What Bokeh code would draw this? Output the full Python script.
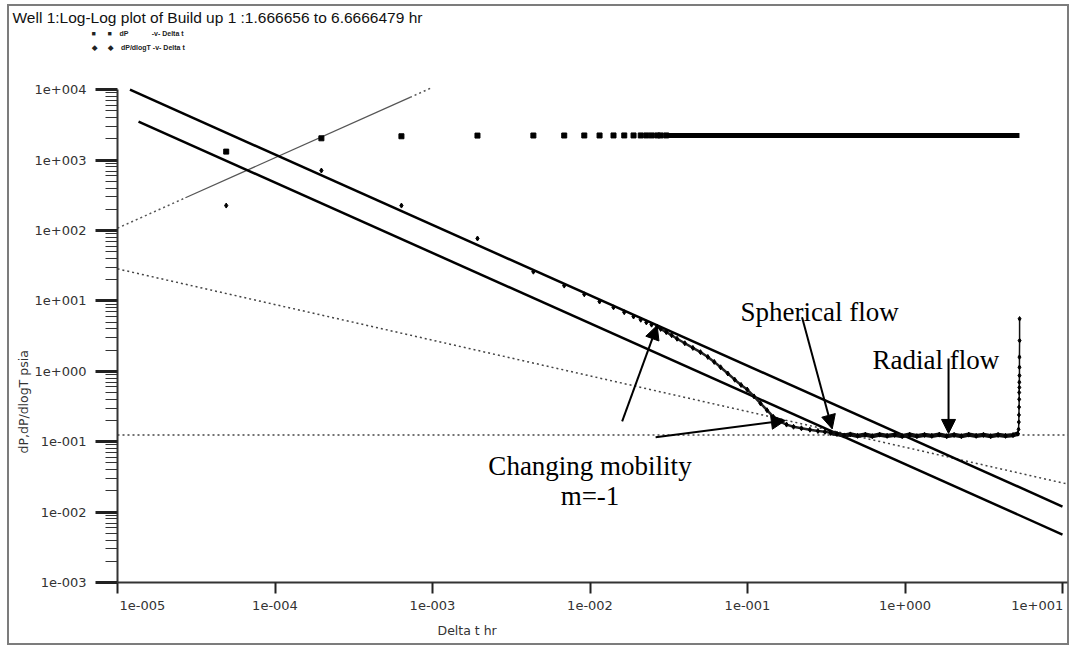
import math
from bokeh.plotting import figure
from bokeh.models import Label, Arrow, NormalHead, FixedTicker, Range1d, Title
from bokeh.embed import file_html
from bokeh.resources import INLINE

# ---------------- data ----------------
# dP -v- Delta t  (squares)
dp_time = [4.9e-5, 1.97e-4, 6.35e-4, 1.93e-3, 4.37e-3, 6.86e-3, 9.2e-3, 1.15e-2,
           1.41e-2, 1.65e-2, 1.89e-2, 2.10e-2, 2.28e-2, 2.46e-2, 2.67e-2, 2.81e-2, 3.05e-2]
dp_value = [1320, 2040, 2180, 2230, 2235, 2235, 2238, 2238,
            2240, 2240, 2240, 2240, 2241, 2241, 2241, 2241, 2241]
# dense tail of the dP record (appears as a solid band)
dp_tail_time = [3.05e-2, 0.1, 0.5, 1.0, 2.0, 4.0, 5.33]
dp_tail_value = [2241, 2242, 2242, 2243, 2243, 2243, 2243]

# dP/dlogT -v- Delta t  (sparse early points)
der_time = [4.9e-5, 1.97e-4, 6.35e-4, 1.93e-3, 4.37e-3, 6.86e-3, 9.2e-3, 1.15e-2,
            1.41e-2, 1.65e-2, 1.89e-2, 2.10e-2, 2.28e-2, 2.46e-2]
der_value = [226, 711, 226, 77, 26, 16.5, 12.4, 9.8, 8.1, 6.9, 6.0, 5.4, 4.95, 4.6]
# dense part of the derivative record: decline, radial-flow plateau, end spike
der_decline_time = [0.0267, 0.0281, 0.0305, 0.0330, 0.0357, 0.040, 0.045, 0.0503, 0.056, 0.0615,
                    0.0675, 0.075, 0.083, 0.091, 0.0996, 0.110, 0.121, 0.133, 0.146, 0.160,
                    0.177, 0.196, 0.22, 0.249, 0.28, 0.31, 0.337]
der_decline_value = [4.3, 4.0, 3.6, 3.25, 2.9, 2.5, 2.15, 1.87, 1.6, 1.36,
                     1.14, 0.93, 0.76, 0.64, 0.55, 0.44, 0.35, 0.28, 0.225, 0.195,
                     0.175, 0.163, 0.155, 0.148, 0.142, 0.138, 0.134]
der_plateau_time = [0.337, 0.37, 0.41, 0.45, 0.50, 0.56, 0.62, 0.69, 0.77, 0.86,
                    0.96, 1.07, 1.19, 1.33, 1.48, 1.65, 1.84, 2.05, 2.28, 2.54,
                    2.83, 3.15, 3.50, 3.90, 4.35, 4.85, 5.20]
der_plateau_value = [0.134, 0.129, 0.122, 0.127, 0.121, 0.126, 0.120, 0.126, 0.121, 0.125,
                     0.120, 0.126, 0.120, 0.125, 0.121, 0.126, 0.120, 0.125, 0.120, 0.126,
                     0.121, 0.125, 0.120, 0.125, 0.121, 0.124, 0.13]
der_spike_time = [5.20, 5.26, 5.28, 5.29, 5.30, 5.31, 5.31, 5.32, 5.32, 5.33, 5.33, 5.33, 5.34, 5.34]
der_spike_value = [0.13, 0.15, 0.19, 0.24, 0.31, 0.40, 0.50, 0.59, 0.70, 0.87, 1.14, 1.59, 2.73, 5.57]

# straight-line fits drawn on the plot
unit_slope_dot1_t = [1e-5, 2.7e-5]
unit_slope_dot1_y = [108, 291.6]
unit_slope_solid_t = [2.7e-5, 7.2e-4]
unit_slope_solid_y = [291.6, 7776]
unit_slope_dot2_t = [7.2e-4, 1e-3]
unit_slope_dot2_y = [7776, 10800]
upper_m1_t = [1.2e-5, 10]
upper_m1_y = [10000, 0.012]
lower_m1_t = [1.36e-5, 10]
lower_m1_y = [3530, 0.0048]
radial_t = [1e-5, 10.8]
radial_y = [0.125, 0.125]
spherical_t = [1e-5, 10.8]
spherical_y = [28.5, 0.025]

x_ticks = [1e-5, 1e-4, 1e-3, 1e-2, 1e-1, 1.0, 10.0]
x_tick_labels = ["1e-005", "1e-004", "1e-003", "1e-002", "1e-001", "1e+000", "1e+001"]
y_ticks = [1e-3, 1e-2, 1e-1, 1.0, 10.0, 100.0, 1000.0, 10000.0]
y_tick_labels = ["1e-003", "1e-002", "1e-001", "1e+000", "1e+001", "1e+002", "1e+003", "1e+004"]

title_text = "Well 1:Log-Log plot of Build up 1 :1.666656 to 6.6666479 hr"
legend_names = ["dP", "dP/dlogT"]
legend_suffix = "-v- Delta t"
x_label = "Delta t  hr"
y_label = "dP,dP/dlogT  psia"

# ---------------- figure ----------------
W, H = 1071, 646
FL, FR, FT, FB = 117, 1067, 85, 582      # frame left / right / top / bottom (canvas px)
DEC_X, DEC_Y = 157.5, 70.4               # pixels per decade
x_end = 10 ** (1 + (FR - 1062) / DEC_X)
y_end = 10 ** (-3 + (FB - FT) / DEC_Y)

p = figure(width=W, height=H, x_axis_type="log", y_axis_type="log",
           x_range=Range1d(1e-5, x_end), y_range=Range1d(1e-3, y_end),
           output_backend="svg", toolbar_location=None,
           min_border_left=FL, min_border_right=W - FR, min_border_top=FT,
           min_border_bottom=H - FB)
g = "linear-gradient(#7c7c7c,#7c7c7c)"
p.styles = {"background": (f"{g} 7px 4px / 2px 641px no-repeat, "
                           f"{g} 7px 4px / 1062px 2px no-repeat, "
                           f"{g} 1067px 4px / 2px 641px no-repeat, "
                           f"{g} 7px 643px / 1062px 2px no-repeat, white")}
p.outline_line_color = None
p.grid.visible = False
p.background_fill_color = None
p.border_fill_color = None

tick_font = "DejaVu Sans"
# y axis
ya = p.yaxis[0]
ya.ticker = FixedTicker(ticks=y_ticks,
                        minor_ticks=[m * 10.0 ** k for k in range(-3, 4) for m in range(2, 10)])
ya.major_label_overrides = dict(zip(y_ticks, y_tick_labels))
ya.bounds = (1e-3, 1e4)
ya.axis_line_width = 2
ya.axis_line_color = "#333333"
ya.major_tick_out = 22
ya.major_tick_in = 0
ya.major_tick_line_width = 3
ya.major_tick_line_color = "#222222"
ya.minor_tick_out = 12
ya.minor_tick_in = 0
ya.minor_tick_line_width = 1.2
ya.minor_tick_line_color = "#333333"
ya.major_label_standoff = 9
ya.major_label_text_font = tick_font
ya.major_label_text_font_size = "13px"
ya.major_label_text_color = "#333333"

# x axis (edge labels padded with figure spaces so they sit inside the frame ends)
fs = "\u2007"
xa = p.xaxis[0]
x_over = dict(zip(x_ticks, x_tick_labels))
x_over[x_ticks[0]] = fs * 6 + x_tick_labels[0]
x_over[x_ticks[-1]] = x_tick_labels[-1] + fs
xa.ticker = FixedTicker(ticks=x_ticks, minor_ticks=[])
xa.major_label_overrides = x_over
xa.axis_line_width = 2
xa.axis_line_color = "#333333"
xa.major_tick_out = 11
xa.major_tick_in = 0
xa.major_tick_line_width = 2
xa.major_tick_line_color = "#222222"
xa.minor_tick_out = 0
xa.minor_tick_in = 0
xa.major_label_standoff = 4
xa.major_label_text_font = tick_font
xa.major_label_text_font_size = "13px"
xa.major_label_text_color = "#333333"

# axis titles placed like the reference (off-centre)
p.add_layout(Title(text=x_label, align="left", offset=437 - FL, standoff=10,
                   text_font=tick_font, text_font_size="12.5px", text_font_style="normal",
                   text_color="#333333"), "below")
p.add_layout(Title(text=y_label, align="left", offset=FB - 453, standoff=2,
                   text_font=tick_font, text_font_size="12.5px", text_font_style="normal",
                   text_color="#333333"), "left")

# title and legend rows, stacked upward from the frame (first = nearest the frame)
nb = "\u00a0"
p.add_layout(Title(text=nb, standoff=23, text_font="Liberation Sans", text_font_size="7px"),
             "above")
rows = [("\u25C6", legend_names[1], 6), ("\u25A0", legend_names[0], 4)]
for mark, name, so in rows:
    gap = nb * 12 if name == "dP" else nb
    txt = mark + nb * 6 + mark + nb * 4 + name + gap + legend_suffix
    p.add_layout(Title(text=txt, align="left", offset=91 - FL, standoff=so,
                       text_font="Liberation Sans", text_font_size="7px",
                       text_font_style="bold", text_color="#222222"), "above")
p.add_layout(Title(text=title_text, align="left", offset=12 - FL, standoff=0,
                   text_font="Liberation Sans", text_font_size="15.5px",
                   text_font_style="normal", text_color="#111111"), "above")

# ---------------- fitted lines ----------------
dot = "2 3"
p.line(radial_t, radial_y, line_color="#444444", line_width=1.5, line_dash=dot)
p.line(spherical_t, spherical_y, line_color="#444444", line_width=1.5, line_dash=dot)
p.line(unit_slope_dot1_t, unit_slope_dot1_y, line_color="#555555", line_width=1.5, line_dash=dot)
p.line(unit_slope_solid_t, unit_slope_solid_y, line_color="#555555", line_width=1.2)
p.line(unit_slope_dot2_t, unit_slope_dot2_y, line_color="#555555", line_width=1.5, line_dash=dot)
p.line(upper_m1_t, upper_m1_y, line_color="black", line_width=2.5)
p.line(lower_m1_t, lower_m1_y, line_color="black", line_width=2.5)

# ---------------- data series ----------------
p.line(dp_tail_time, dp_tail_value, line_color="black", line_width=5)
p.scatter(dp_time, dp_value, marker="square", size=5, color="black")
p.line(der_decline_time, der_decline_value, line_color="#222222", line_width=2.5)
p.scatter(der_decline_time, der_decline_value, marker="diamond", size=5, color="black")
p.line(der_plateau_time, der_plateau_value, line_color="#111111", line_width=4.5)
p.scatter(der_plateau_time, der_plateau_value, marker="diamond", size=5, color="black")
p.line(der_spike_time, der_spike_value, line_color="#111111", line_width=1.5)
p.scatter(der_spike_time, der_spike_value, marker="diamond", size=4.5, color="black")
p.scatter(der_time, der_value, marker="diamond", size=5, color="black")

# ---------------- annotations in the plot ----------------
serif = "Liberation Serif"
for txt, tx, ty, al in [("Spherical flow", 0.0904, 6.95, "left"),
                        ("Radial flow", 0.622, 1.47, "left"),
                        ("Changing mobility", 0.01, 0.0459, "center"),
                        ("m=-1", 0.01, 0.0172, "center")]:
    p.add_layout(Label(x=tx, y=ty, text=txt, text_font=serif, text_font_size="27px",
                       text_color="black", text_align=al, text_baseline="alphabetic"))

for xs, ys, xe, ye in [(0.222, 5.87, 0.345, 0.152),
                       (1.89, 1.52, 1.89, 0.131),
                       (0.016, 0.194, 0.0267, 4.48),
                       (0.0261, 0.116, 0.174, 0.2)]:
    p.add_layout(Arrow(x_start=xs, y_start=ys, x_end=xe, y_end=ye, line_width=2,
                       line_color="black",
                       end=NormalHead(size=14, fill_color="black", line_color="black")))

open("out.html", "w").write(file_html(p, INLINE))
